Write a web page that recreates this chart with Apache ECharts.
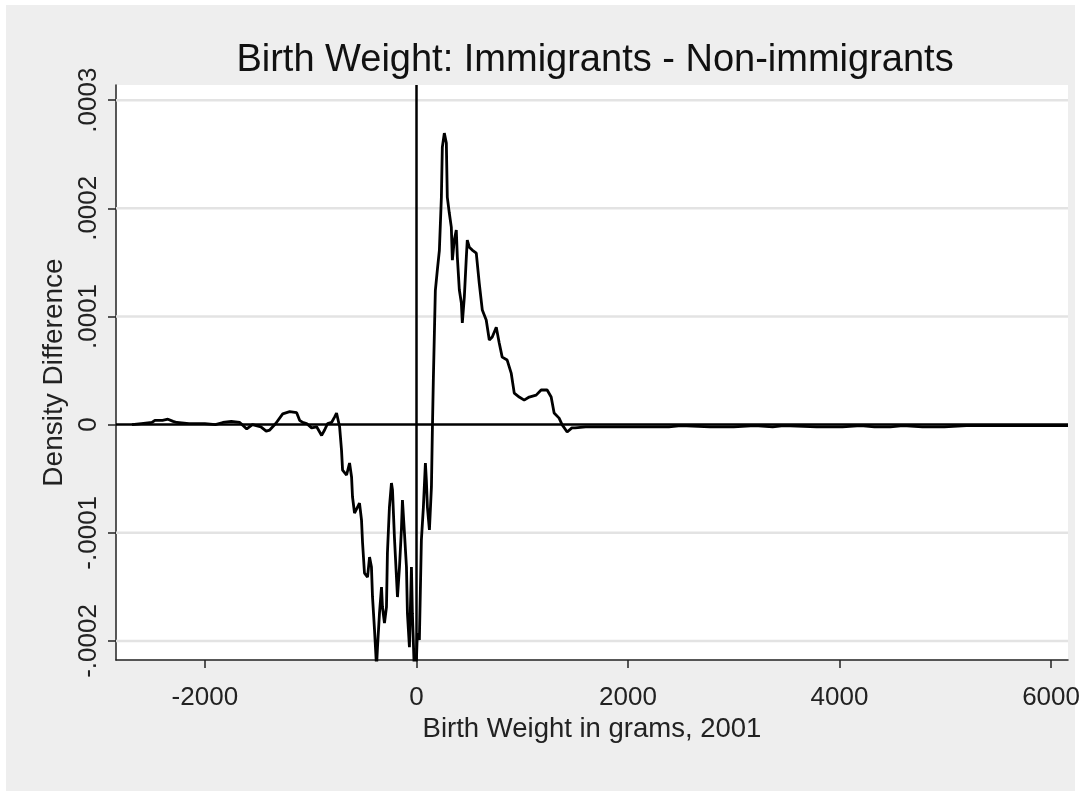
<!DOCTYPE html>
<html>
<head>
<meta charset="utf-8">
<script src="https://cdn.jsdelivr.net/npm/echarts@6.0.0/dist/echarts.min.js"></script>
<style>
  html, body { margin: 0; padding: 0; background: #ffffff; }
  #chart { width: 1092px; height: 791px; }
</style>
</head>
<body>
<div id="chart"></div>
<script>
// Birth weight (grams) and density difference (immigrants - non-immigrants)
const birthWeight = [
  -2689, -2600, -2500, -2472, -2400, -2349, -2300, -2264, -2150, -2000,
  -1900, -1830, -1750, -1670, -1604, -1550, -1470, -1420, -1387, -1330,
  -1264, -1198, -1132, -1104, -1075, -1038, -991, -943, -896, -868,
  -840, -802, -774, -755, -726, -708, -698, -660, -632, -613,
  -604, -585, -538, -519, -509, -491, -462, -443, -425, -415,
  -396, -377, -368, -349, -330, -321, -302, -283, -274, -255,
  -236, -226, -208, -179, -160, -142, -132, -113, -94, -85,
  -66, -47, -38, -19, 0, 9, 28, 47, 66, 85,
  94, 104, 123, 142, 151, 160, 179, 198, 217, 236,
  245, 264, 283, 292, 311, 330, 340, 358, 377, 387,
  406, 425, 434, 453, 472, 481, 500, 528, 566, 594,
  623, 660, 689, 717, 755, 783, 811, 858, 896, 925,
  972, 1019, 1066, 1132, 1179, 1236, 1274, 1302, 1349, 1377,
  1425, 1470, 1500, 1600, 1700, 1800, 1972, 2200, 2387, 2500,
  2774, 3000, 3200, 3368, 3472, 3783, 4028, 4200, 4330, 4481,
  4600, 4783, 4991, 5200, 5600, 6000, 6160
];
const densityDiff = [
  0.0000000, 0.0000010, 0.0000020, 0.0000040, 0.0000040, 0.0000050, 0.0000030, 0.0000020, 0.0000010, 0.0000010,
  0.0000000, 0.0000020, 0.0000030, 0.0000020, -0.0000040, 0.0000000, -0.0000020, -0.0000060, -0.0000050, 0.0000010,
  0.0000100, 0.0000120, 0.0000110, 0.0000040, 0.0000020, 0.0000010, -0.0000030, -0.0000020, -0.0000100, -0.0000050,
  0.0000010, 0.0000020, 0.0000070, 0.0000107, -0.0000020, -0.0000235, -0.0000420, -0.0000466, -0.0000355, -0.0000484,
  -0.0000669, -0.0000817, -0.0000725, -0.0000882, -0.0001094, -0.0001372, -0.0001409, -0.0001224, -0.0001316, -0.0001593,
  -0.0001898, -0.0002240, -0.0002060, -0.0001743, -0.0001501, -0.0001686, -0.0001834, -0.0001686, -0.0001187, -0.0000762,
  -0.0000540, -0.0000604, -0.0001039, -0.0001594, -0.0001316, -0.0000974, -0.0000697, -0.0001002, -0.0001316, -0.0001743,
  -0.0002057, -0.0001316, -0.0001743, -0.0002297, -0.0002177, -0.0001927, -0.0001990, -0.0001067, -0.0000762, -0.0000355,
  -0.0000512, -0.0000762, -0.0000974, -0.0000576, -0.0000050, 0.0000410, 0.0001240, 0.0001430, 0.0001610, 0.0002100,
  0.0002565, 0.0002695, 0.0002603, 0.0002103, 0.0001956, 0.0001826, 0.0001521, 0.0001706, 0.0001799, 0.0001549,
  0.0001244, 0.0001124, 0.0000940, 0.0001179, 0.0001549, 0.0001706, 0.0001641, 0.0001614, 0.0001586, 0.0001309,
  0.0001059, 0.0000967, 0.0000782, 0.0000810, 0.0000900, 0.0000754, 0.0000624, 0.0000597, 0.0000477, 0.0000291,
  0.0000255, 0.0000227, 0.0000255, 0.0000273, 0.0000320, 0.0000320, 0.0000255, 0.0000107, 0.0000060, 0.0000000,
  -0.0000068, -0.0000030, -0.0000030, -0.0000020, -0.0000020, -0.0000020, -0.0000020, -0.0000020, -0.0000020, -0.0000010,
  -0.0000020, -0.0000020, -0.0000010, -0.0000020, -0.0000010, -0.0000020, -0.0000020, -0.0000010, -0.0000020, -0.0000020,
  -0.0000010, -0.0000020, -0.0000020, -0.0000010, -0.0000010, -0.0000010, -0.0000010
];
const xTicks = [-2000, 0, 2000, 4000, 6000];
const yTicks = [-0.0002, -0.0001, 0, 0.0001, 0.0002, 0.0003];
const gridLineValues = [-0.0002, -0.0001, 0.0001, 0.0002, 0.0003];

const titleText = 'Birth Weight: Immigrants - Non-immigrants';
const xName = 'Birth Weight in grams, 2001';
const yName = 'Density Difference';

const X_MIN = -2840, X_MAX = 6160;
const Y_MIN = -0.0002176, Y_MAX = 0.000314;

const FONT = '"Liberation Sans", Arial, sans-serif';
const chart = echarts.init(document.getElementById('chart'), null, { renderer: 'canvas' });

const seriesData = birthWeight.map((x, i) => [x, densityDiff[i]]);

function yFmt(v) {
  if (Math.abs(v) < 1e-12) return '0';
  return v.toFixed(4).replace('0.', '.');
}

const gridSeries = gridLineValues.map(v => ({
  type: 'line',
  data: [[X_MIN, v], [X_MAX, v]],
  showSymbol: false,
  symbol: 'none',
  silent: true,
  z: 3,
  lineStyle: { color: '#e3e3e3', width: 2.5 }
}));

chart.setOption({
  backgroundColor: '#ffffff',
  animation: false,
  graphic: [{
    type: 'rect',
    z: -100,
    silent: true,
    shape: { x: 6, y: 5, width: 1069, height: 786 },
    style: { fill: '#eeeeee' }
  }],
  title: {
    text: titleText,
    left: 590,
    top: 37,
    textAlign: 'center',
    textStyle: { fontFamily: FONT, fontSize: 38, fontWeight: 'normal', color: '#111' }
  },
  grid: {
    left: 116, right: 24, top: 85, bottom: 131,
    show: true, backgroundColor: '#ffffff', borderWidth: 0
  },
  xAxis: {
    type: 'value',
    min: X_MIN, max: X_MAX,
    name: xName,
    nameLocation: 'middle',
    nameGap: 49,
    nameTextStyle: { fontFamily: FONT, fontSize: 27.5, color: '#222' },
    axisLine: { show: true, onZero: false, lineStyle: { color: '#222', width: 1.5 } },
    axisTick: { show: true, length: 8, customValues: xTicks, lineStyle: { color: '#222', width: 1.5 } },
    axisLabel: { customValues: xTicks, margin: 25, fontFamily: FONT, fontSize: 26, color: '#222', formatter: v => String(v) },
    splitLine: { show: false }
  },
  yAxis: {
    type: 'value',
    min: Y_MIN, max: Y_MAX,
    name: yName,
    nameLocation: 'middle',
    nameGap: 45,
    nameRotate: 90,
    nameTextStyle: { fontFamily: FONT, fontSize: 28, color: '#222' },
    axisLine: { show: true, onZero: false, lineStyle: { color: '#222', width: 1.5 } },
    axisTick: { show: true, length: 8, customValues: yTicks, lineStyle: { color: '#222', width: 1.5 } },
    axisLabel: { customValues: yTicks, rotate: 90, margin: 14, fontFamily: FONT, fontSize: 26, color: '#222', formatter: yFmt },
    splitLine: { show: false }
  },
  series: gridSeries.concat([
    {
      type: 'line',
      name: 'diff',
      data: seriesData,
      z: 4,
      showSymbol: false,
      symbol: 'none',
      lineStyle: { color: '#000', width: 2.8 }
    },
    {
      type: 'line',
      name: 'ref',
      data: [[xTicks[0], 0]],
      showSymbol: false,
      symbol: 'none',
      lineStyle: { width: 0, opacity: 0 },
      z: 5,
      silent: true,
      markLine: {
        silent: true,
        symbol: 'none',
        label: { show: false },
        lineStyle: { color: '#000', width: 2.5, type: 'solid' },
        data: [{ yAxis: 0 }, { xAxis: 0 }]
      }
    }
  ])
});
</script>
</body>
</html>
